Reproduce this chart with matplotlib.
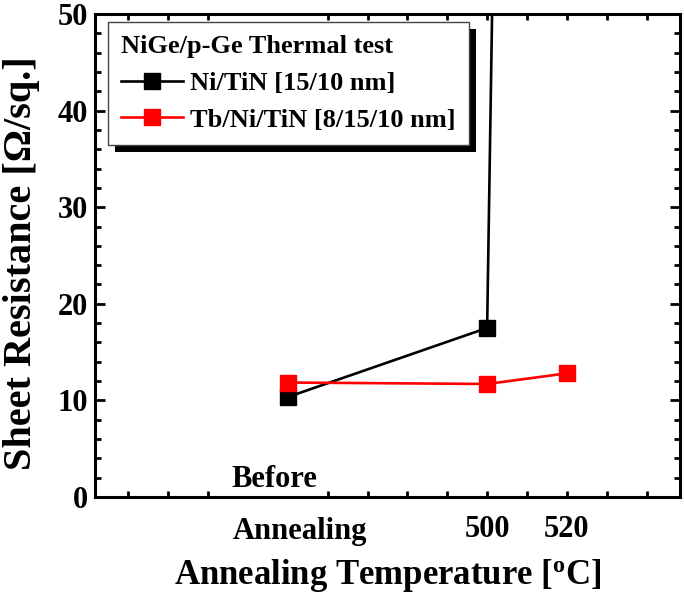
import matplotlib
matplotlib.use("Agg")
import matplotlib.pyplot as plt
from matplotlib.patches import Rectangle
from matplotlib.ticker import MultipleLocator, FixedLocator

# ---------- data ---------- #
BEFORE = 450          # position used for the "Before Annealing" point
ni_x = [BEFORE, 500, 520]
ni_y = [10.35, 17.5, 540]        # last point far off the top of the axis
tb_x = [BEFORE, 500, 520]
tb_y = [11.85, 11.7, 12.8]

xticks = [410, 420, 430, 460, 470, 480, 490, 500, 510, 520, 530, 540]
xlabels = {500: "500", 520: "520"}

FONT = "Liberation Serif"
plt.rcParams["font.family"] = FONT
plt.rcParams["font.weight"] = "bold"
plt.rcParams["mathtext.fontset"] = "custom"
plt.rcParams["mathtext.rm"] = FONT + ":bold"

fig = plt.figure(figsize=(6.85, 5.93), dpi=100)
ax = fig.add_axes([95 / 685, 1 - 497 / 593, 585 / 685, 483 / 593])

ax.plot(ni_x, ni_y, color="black", lw=1.9, marker="s", ms=11,
        label="Ni/TiN [15/10 nm]", zorder=3)
ax.plot(tb_x, tb_y, color="red", lw=1.9, marker="s", ms=11,
        label="Tb/Ni/TiN [8/15/10 nm]", zorder=4)

ax.set_xlim(401.6, 548.4)
ax.set_ylim(0, 50)

ax.xaxis.set_major_locator(FixedLocator(xticks))
ax.set_xticklabels([xlabels.get(t, "") for t in xticks])
ax.yaxis.set_major_locator(MultipleLocator(10))
ax.yaxis.set_minor_locator(MultipleLocator(2))

ax.tick_params(which="both", direction="in", top=True, right=True,
               width=2, labelsize=22)
ax.tick_params(which="major", length=7)
ax.tick_params(which="minor", length=4.5)
ax.tick_params(axis="x", length=4.5, pad=13)
ax.tick_params(axis="y", pad=5)
for s in ax.spines.values():
    s.set_linewidth(2.2)

# "Before" above the axis, "Annealing" in the tick label row
ax.text(446.5, 0.35, "Before", ha="center", va="bottom", fontsize=22,
        fontweight="bold", zorder=6)
ax.text(453, -2.1, "Annealing", ha="center", va="top", fontsize=22,
        fontweight="bold", clip_on=False)

ax.set_xlabel("Annealing Temperature [$\\mathregular{^{o}}$C]", fontsize=25,
              fontweight="bold")
ax.xaxis.set_label_coords(0.5, -0.124)
ax.set_ylabel("Sheet Resistance [\u03a9/sq.]", fontsize=29,
              fontweight="bold")
ax.yaxis.set_label_coords(-0.094, 0.484)

leg = ax.legend(loc="upper left", bbox_to_anchor=(13 / 585, 1 - 8 / 483),
                title="NiGe/p-Ge Thermal test", fontsize=19,
                title_fontproperties={"size": 19, "weight": "bold"},
                fancybox=False, edgecolor="#444444", framealpha=1,
                handlelength=2.35, handletextpad=0.27, borderpad=0.5,
                borderaxespad=0, labelspacing=0.5)
leg._legend_box.align = "left"
leg.get_frame().set_linewidth(1)
leg.set_zorder(10)

# thick black drop shadow behind the legend box
fig.canvas.draw()
bb = leg.get_window_extent().transformed(ax.transAxes.inverted())
dx = 7 / 585
dy = 7 / 483
ax.add_patch(Rectangle((bb.x0 + dx, bb.y0 - dy), bb.width, bb.height,
                       transform=ax.transAxes, facecolor="black",
                       edgecolor="none", zorder=9, clip_on=False))

fig.savefig("out.png", dpi=100)
